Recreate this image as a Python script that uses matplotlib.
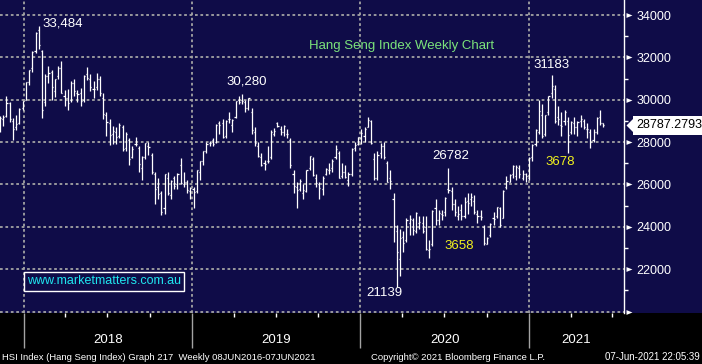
import numpy as np
import pandas as pd
import matplotlib
matplotlib.use("Agg")
import matplotlib.pyplot as plt
import matplotlib.dates as mdates
import matplotlib.transforms as mtransforms
from matplotlib.collections import LineCollection
from matplotlib.patches import Rectangle
from matplotlib.path import Path
from matplotlib.ticker import MultipleLocator

# -----------------------------
# Dados semanais do HSI, semana terminando na sexta
# -----------------------------
inicio = "2017-11-10"

abertura = [
    28600, 29100, 29250, 29850, 29000, 28700, 28900, 29600,  # 2017
    30000, 30850, 31500, 32300, 33300, 32300, 29900, 31100, 31300, 30400, 31100, 31500, 30200,
    30100, 30000, 30800, 30300, 30300, 30000, 31200, 31000, 30500, 30600, 31000, 30100, 29300,
    28900, 28400, 28500, 28300, 28700, 27700, 28100, 27300, 27900, 27700, 26800, 27300, 27800,
    27400, 26500, 25900, 25600, 24900, 26300, 25500, 26300, 26000, 26900, 26000, 26100, 25700,  # 2018
    25800, 25700, 26600, 27100, 27600, 27950, 28100, 28000, 28900, 28900, 28300, 29100, 28800,
    29200, 30000, 30000, 29900, 29600, 29400, 28500, 27800, 27300, 27000, 27100, 27300, 28400,
    28900, 28600, 28500, 28400, 28100, 26500, 25900, 25800, 25600, 25700, 26800, 27200, 26300,
    26000, 25800, 26500, 26700, 26800, 27300, 27500, 26400, 26600, 26200, 26500, 27700, 27900,  # 2019
    28200, 28300, 28700, 29000, 27200, 26300, 27500, 27800, 27000, 26300, 25300, 23800, 22500,
    23500, 23400, 24200, 24300, 23800, 24200, 24200, 24000, 22900, 23200, 24900, 24300, 24600,
    24700, 25800, 25700, 25100, 24500, 24800, 24500, 25200, 25300, 25200, 24600, 24500, 24000,
    23200, 23600, 24400, 24500, 24900, 24400, 25900, 26100, 26500, 26400, 26800, 26300, 26500,  # 2020
    26300, 27300, 27900, 28500, 29300, 28400, 29400, 30300, 30500, 29200, 28800, 29000, 29000,
    28500, 28900, 28700, 29000, 29000, 28600, 28500, 28100, 28500, 29200, 28900,  # 2021
]
maxima = [
    29250, 29300, 30199, 29900, 29150, 29300, 29600, 29950,
    30850, 31420, 32300, 33200, 33484, 32350, 31200, 31600, 31400, 31000, 31600, 31850, 30450,
    30500, 30900, 31000, 30450, 30550, 31150, 31550, 31200, 30900, 31250, 31100, 30300, 29400,
    29100, 28750, 28700, 28900, 28800, 28500, 28200, 27800, 28250, 27800, 27350, 27970, 28000,
    27500, 26600, 26300, 25700, 26500, 26600, 26200, 26400, 26550, 27260, 26600, 26200, 25900,
    25900, 26700, 27100, 27600, 28000, 28050, 28200, 28850, 29000, 29100, 29050, 29400, 29100,
    29950, 30160, 30280, 30000, 30100, 29600, 28700, 28000, 27500, 27150, 27800, 28550, 28650,
    28950, 28750, 28800, 28600, 28200, 26700, 26100, 26250, 26000, 26700, 27355, 27300, 26500,
    26100, 26400, 26800, 27000, 27200, 27847, 27600, 27000, 26900, 26600, 27700, 28000, 28250,
    28600, 28700, 29175, 29050, 27500, 27600, 27950, 28000, 27100, 26700, 25600, 24100, 23900,
    23800, 24400, 24550, 24400, 24700, 24500, 24500, 24500, 23400, 24800, 25300, 24800, 24800,
    25400, 26782, 25900, 25300, 25000, 25100, 25400, 25600, 25600, 25500, 24800, 24800, 24100,
    23500, 24200, 24700, 24950, 24950, 25750, 26400, 26500, 26900, 26900, 26900, 26700, 26550,
    27300, 27900, 28600, 30000, 29800, 29300, 30200, 31183, 30700, 29700, 29400, 29500, 29200,
    29000, 29200, 29000, 29300, 29100, 28900, 28600, 28600, 29200, 29500, 28900,
]
minima = [
    28500, 28750, 29200, 28950, 28100, 28550, 28850, 29500,
    29980, 30700, 31300, 32200, 32400, 29129, 29700, 30800, 30000, 30150, 31000, 30300, 29700,
    29500, 29900, 30200, 29900, 29700, 29900, 30950, 30400, 30100, 30450, 30200, 29100, 28300,
    27850, 27900, 27900, 28200, 27600, 27600, 26900, 27250, 27800, 26600, 26220, 27200, 27400,
    26500, 25100, 25300, 24540, 24600, 25500, 25300, 25800, 25800, 26000, 25900, 25600, 25300,
    24896, 25600, 26200, 26900, 27500, 27800, 27800, 27950, 28400, 28200, 28200, 28900, 28500,
    29150, 29800, 29800, 29400, 29500, 28400, 27800, 27300, 26880, 26670, 27000, 27200, 28300,
    28700, 28350, 28300, 28200, 26800, 25600, 24899, 25700, 25300, 25650, 26700, 26400, 25900,
    25300, 25500, 26450, 26500, 26600, 27200, 26300, 26300, 26300, 25940, 26400, 27600, 27850,
    27900, 28000, 28700, 27900, 26200, 26200, 27250, 27200, 26100, 25800, 23300, 21139, 21700,
    22800, 23300, 23600, 23600, 23700, 23900, 23700, 22900, 22520, 23100, 24100, 24100, 24300,
    24500, 25600, 24800, 24500, 24300, 24300, 24400, 24600, 25000, 24600, 24200, 24300, 23124,
    23200, 23500, 24100, 24400, 24000, 24400, 25800, 26100, 26300, 26200, 26300, 26200, 26100,
    26200, 27100, 27800, 28400, 28200, 28300, 29300, 30100, 28900, 28800, 28300, 28800, 27505,
    28400, 28400, 28300, 28700, 28600, 28200, 27700, 28000, 28400, 28800, 28700,
]
fechamento = [
    29120, 29199, 29866, 29074, 28640, 28848, 29578, 29919,
    30815, 31412, 32255, 33154, 32602, 29507, 31115, 31268, 30583, 30996, 31502, 30309, 30093,
    29844, 30808, 30418, 30281, 29927, 31122, 31048, 30588, 30492, 30958, 30309, 29338, 28955,
    28316, 28525, 28224, 28804, 27676, 28367, 27213, 27672, 27889, 26974, 27286, 27953, 27788,
    26572, 25801, 25561, 24717, 26486, 25601, 26183, 25927, 26506, 26063, 26094, 25754, 25845,
    25626, 26667, 27090, 27569, 27930, 27946, 27901, 28816, 28812, 28228, 29012, 29113, 29051,
    29936, 29909, 29963, 29605, 30082, 28550, 27946, 27354, 26901, 26965, 27118, 28473, 28543,
    28775, 28471, 28765, 28398, 26919, 25939, 25734, 26179, 25725, 26691, 27353, 26436, 26092,
    25821, 26308, 26720, 26667, 27101, 27651, 26327, 26595, 26346, 26498, 27688, 27871, 28225,
    28452, 28638, 29056, 27950, 26313, 27404, 27816, 27309, 26130, 26146, 24033, 22805, 23484,
    23236, 24300, 24380, 23832, 24644, 24230, 23797, 22930, 22961, 24770, 24301, 24644, 24549,
    25373, 25727, 25089, 24705, 24595, 24531, 25183, 25113, 25422, 24695, 24503, 24455, 23235,
    23459, 24119, 24386, 24918, 24107, 25712, 26157, 26451, 26894, 26835, 26506, 26498, 26387,
    27231, 27878, 28573, 29447, 28283, 29289, 30173, 30644, 28980, 29098, 28740, 29405, 28336,
    28939, 28698, 28969, 29079, 28725, 28610, 28027, 28458, 29124, 28918, 28787.2793,
]

niveis_y = [20000, 22000, 24000, 26000, 28000, 30000, 32000, 34000]
anos = [2018, 2019, 2020, 2021]

titulo = "Hang Seng Index Weekly Chart"
site = "www.marketmatters.com.au"
rodape_esq = "HSI Index (Hang Seng Index) Graph 217  Weekly 08JUN2016-07JUN2021"
rodape_meio = "Copyright\u00a9 2021 Bloomberg Finance L.P."
rodape_dir = "07-Jun-2021 22:05:39"

# -----------------------------
# Cores e fonte
# -----------------------------
plt.rcParams["font.family"] = ["Liberation Sans", "DejaVu Sans"]
azul = "#0f0c48"
cinza = "#a3a3a3"
verde = "#7be37b"
amarelo = "#f2f21e"
ciano = "#1fe6ef"

semanas = pd.date_range(inicio, periods=len(fechamento), freq="W-FRI")
x = mdates.date2num(semanas)
ano = semanas.year.values
mes = semanas.month.values
idx = np.arange(len(x))
maxima_a = np.array(maxima)
minima_a = np.array(minima)

# -----------------------------
# Figura
# -----------------------------
fig = plt.figure(figsize=(7.02, 3.64), dpi=100, facecolor="black")
base = 51 / 364
ax = fig.add_axes([0, base, 624 / 702, 1 - base])
ax.set_facecolor(azul)
fig.add_artist(Rectangle((0, base), 1, 1 - base, transform=fig.transFigure,
                         facecolor=azul, edgecolor="none", zorder=-5))

# barras OHLC
meia = 2.4
segs = []
for xi, o, h, l, c in zip(x, abertura, maxima, minima, fechamento):
    segs.append([(xi, l), (xi, h)])
    segs.append([(xi - meia, o), (xi, o)])
    segs.append([(xi, c), (xi + meia, c)])
ax.add_collection(LineCollection(segs, colors="white", linewidths=0.9, zorder=3))

ax.set_xlim(mdates.date2num(pd.Timestamp("2017-11-09 22:00")),
            mdates.date2num(pd.Timestamp("2021-07-26")))
ax.set_ylim(19930, 34710)

# eixos
for lado in ["top", "left", "bottom"]:
    ax.spines[lado].set_visible(False)
ax.spines["right"].set_color("white")
ax.spines["right"].set_linewidth(1)

ax.yaxis.tick_right()
ax.set_yticks(niveis_y, labels=[str(v) if v > niveis_y[0] else "" for v in niveis_y])
ax.yaxis.set_minor_locator(MultipleLocator(1000))
ax.tick_params(axis="y", which="major", length=0, pad=9, labelcolor="white", labelsize=9)
ax.tick_params(axis="y", which="minor", length=3, width=1, color="white", direction="out")

ax.xaxis.set_major_locator(mdates.YearLocator())
ax.xaxis.set_minor_locator(mdates.MonthLocator(bymonth=[4, 7, 10]))
ax.tick_params(axis="x", which="major", length=25, width=1, color=cinza, labelbottom=False)
ax.tick_params(axis="x", which="minor", length=3, width=1, color="white")

ax.grid(True, which="major", color=cinza, linestyle=(0, (1.5, 1.5)), linewidth=1.3, zorder=1)
ax.set_axisbelow(True)

# triangulos nos ticks principais
trans_y = mtransforms.blended_transform_factory(ax.transAxes, ax.transData)
tri = Path([(0, -0.4), (1, 0), (0, 0.4), (0, -0.4)],
           [Path.MOVETO, Path.LINETO, Path.LINETO, Path.CLOSEPOLY])
ax.scatter([1] * len(niveis_y), niveis_y, marker=tri, s=74, color="white",
           transform=trans_y + mtransforms.ScaledTranslation(2 / 100, 0, fig.dpi_scale_trans),
           clip_on=False, zorder=5, linewidths=0)

# rotulos dos anos, centrados na parte visivel de cada ano
x0, x1 = ax.get_xlim()
trans_x = mtransforms.blended_transform_factory(ax.transData, ax.transAxes)
for a in anos:
    ini = max(mdates.date2num(pd.Timestamp(f"{a}-01-01")), x0)
    fim = min(mdates.date2num(pd.Timestamp(f"{a + 1}-01-01")), x1)
    ax.text((ini + fim) / 2, -27 / 313, str(a), transform=trans_x, color="white",
            fontsize=9.5, ha="center", va="center")

# etiqueta do ultimo preco
ultimo = fechamento[-1]
seta = Path([(1, -1), (0, 0), (1, 1), (1, -1)],
            [Path.MOVETO, Path.LINETO, Path.LINETO, Path.CLOSEPOLY])
ax.scatter([1], [ultimo], marker=seta, s=132, color="white", linewidths=0,
           transform=trans_y + mtransforms.ScaledTranslation(2 / 100, 0, fig.dpi_scale_trans),
           clip_on=False, zorder=6)
ax.text(1, ultimo, f"{ultimo:.4f}", color="black", fontsize=9, ha="left", va="center",
        transform=trans_y + mtransforms.ScaledTranslation(12 / 100, 0, fig.dpi_scale_trans),
        bbox=dict(boxstyle="square,pad=0.25", fc="white", ec="none"), zorder=6, clip_on=False)

# -----------------------------
# Anotacoes dos topos e fundos
# -----------------------------
i_topo18 = int(np.argmax(maxima_a))
m19 = np.where(ano == 2019)[0]
i_topo19 = int(m19[np.argmax(maxima_a[m19])])
i_fundo20 = int(np.argmin(minima_a))
m20 = np.where((ano == 2020) & (idx > i_fundo20) & (mes <= 9))[0]
i_topo20 = int(m20[np.argmax(maxima_a[m20])])
m20b = np.where((ano == 2020) & (idx > i_topo20) & (mes <= 10))[0]
i_fundo20b = int(m20b[np.argmin(minima_a[m20b])])
m21a = np.where(idx > i_fundo20)[0]
i_topo21 = int(m21a[np.argmax(maxima_a[m21a])])
m21 = np.arange(i_topo21 + 1, len(x))
i_fundo21 = int(m21[np.argmin(minima_a[m21])])

def rotulo(texto, i, valor, dx, dy, cor="white", ha="center"):
    ax.annotate(texto, xy=(x[i], valor), xytext=(dx, dy), textcoords="offset pixels",
                color=cor, fontsize=9.5, ha=ha, va="center", zorder=7)

rotulo(f"{maxima[i_topo18]:,}", i_topo18, maxima[i_topo18], 4, 2, ha="left")
rotulo(f"{maxima[i_topo19]:,}", i_topo19, maxima[i_topo19], 5, 12)
rotulo(f"{minima[i_fundo20]}", i_fundo20, minima[i_fundo20], -12, -6)
rotulo(f"{maxima[i_topo20]}", i_topo20, maxima[i_topo20], 2, 12)
rotulo(f"{maxima[i_topo21]}", i_topo21, maxima[i_topo21], 0, 10)
rotulo(f"{maxima[i_topo20] - minima[i_fundo20b]}", i_fundo20b, minima[i_fundo20b], -25, -1, cor=amarelo)
rotulo(f"{maxima[i_topo21] - minima[i_fundo21]}", i_fundo21, minima[i_fundo21], -8, -9, cor=amarelo)

ax.text(309 / 624, 1 - 46 / 313, titulo, transform=ax.transAxes, color=verde,
        fontsize=9.5, ha="left", va="center")
ax.text(104 / 624, 1 - 281.5 / 313, site, transform=ax.transAxes, color=ciano,
        fontsize=9, ha="center", va="center",
        bbox=dict(boxstyle="square,pad=0.25", fc="none", ec="white", lw=1))

# -----------------------------
# Rodape
# -----------------------------
yr = 1 - 357 / 364
fig.text(2 / 702, yr, rodape_esq, color="white", fontsize=6.8, ha="left", va="center")
fig.text(371 / 702, yr, rodape_meio, color="white", fontsize=6.8, ha="left", va="center")
fig.text(700 / 702, yr, rodape_dir, color="white", fontsize=7.0, ha="right", va="center")

fig.savefig("out.png", dpi=100, facecolor="black")
